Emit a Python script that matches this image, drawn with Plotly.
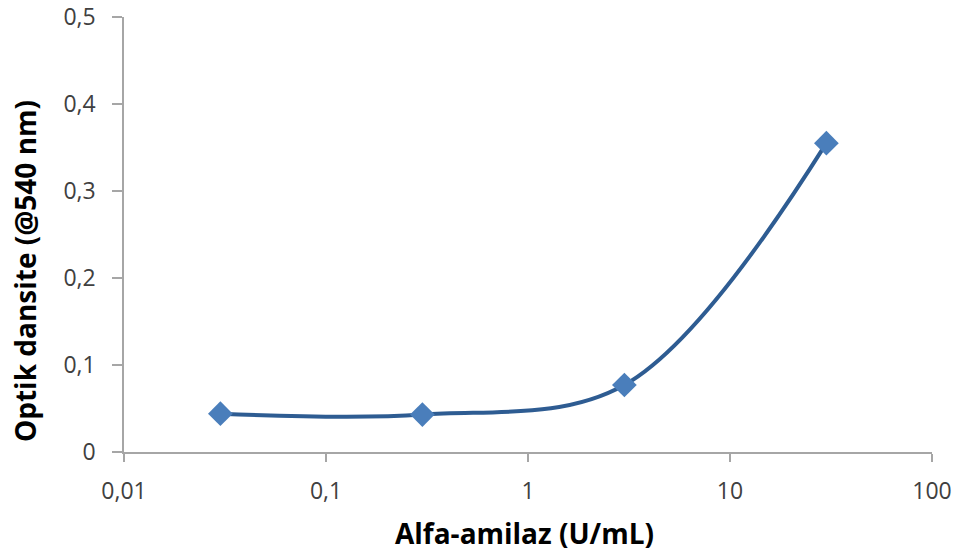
import plotly.graph_objects as go

concentration = [0.03, 0.3, 3, 30]
optical_density = [0.044, 0.043, 0.077, 0.355]

x_tick_vals = [0.01, 0.1, 1, 10, 100]
x_tick_text = ["0,01", "0,1", "1", "10", "100"]
y_tick_vals = [0, 0.1, 0.2, 0.3, 0.4, 0.5]
y_tick_text = ["0", "0,1", "0,2", "0,3", "0,4", "0,5"]

x_title = "Alfa-amilaz (U/mL)"
y_title = "Optik dansite (@540 nm)"

fig = go.Figure()
fig.add_trace(go.Scatter(
    x=concentration, y=optical_density,
    mode="lines",
    line=dict(color="#2e5c92", width=4, shape="spline", smoothing=1.0),
    showlegend=False, hoverinfo="skip",
))
fig.add_trace(go.Scatter(
    x=concentration, y=optical_density,
    mode="markers",
    marker=dict(symbol="diamond", size=19, color="#4a7ebb"),
    showlegend=False,
))

tickfont = dict(family="Open Sans, Liberation Sans, sans-serif", size=23, color="#404040")
fig.update_xaxes(
    type="log", range=[-2, 2],
    tickvals=x_tick_vals, ticktext=x_tick_text,
    showline=True, linecolor="#a6a6a6", linewidth=1.5,
    ticks="outside", tickcolor="#a6a6a6", ticklen=8, tickwidth=1.5,
    ticklabelstandoff=10, automargin=False,
    showgrid=False, zeroline=False, tickfont=tickfont,
)
fig.update_yaxes(
    range=[0, 0.5],
    tickvals=y_tick_vals, ticktext=y_tick_text,
    showline=True, linecolor="#a6a6a6", linewidth=1.5,
    ticks="outside", tickcolor="#a6a6a6", ticklen=10, tickwidth=1.5,
    ticklabelstandoff=12, automargin=False,
    showgrid=False, zeroline=False, tickfont=tickfont,
)

titlefont = dict(family="Open Sans, Liberation Sans, sans-serif", size=28, color="#000000")
fig.add_annotation(
    text="<b>" + x_title + "</b>", xref="paper", yref="paper",
    x=0.496, y=-0.186, showarrow=False, font=titlefont,
    xanchor="center", yanchor="middle",
)
fig.add_annotation(
    text="<b>" + y_title + "</b>", xref="paper", yref="paper",
    x=-0.1225, y=0.416, showarrow=False, font=titlefont, textangle=-90,
    xanchor="center", yanchor="middle",
)

fig.update_layout(
    width=962, height=555,
    margin=dict(l=124, r=30, t=17, b=103),
    plot_bgcolor="white", paper_bgcolor="white",
)

fig.write_html(
    "out.html",
    config={"displayModeBar": False},
    post_script="document.body.style.margin='0';",
)
